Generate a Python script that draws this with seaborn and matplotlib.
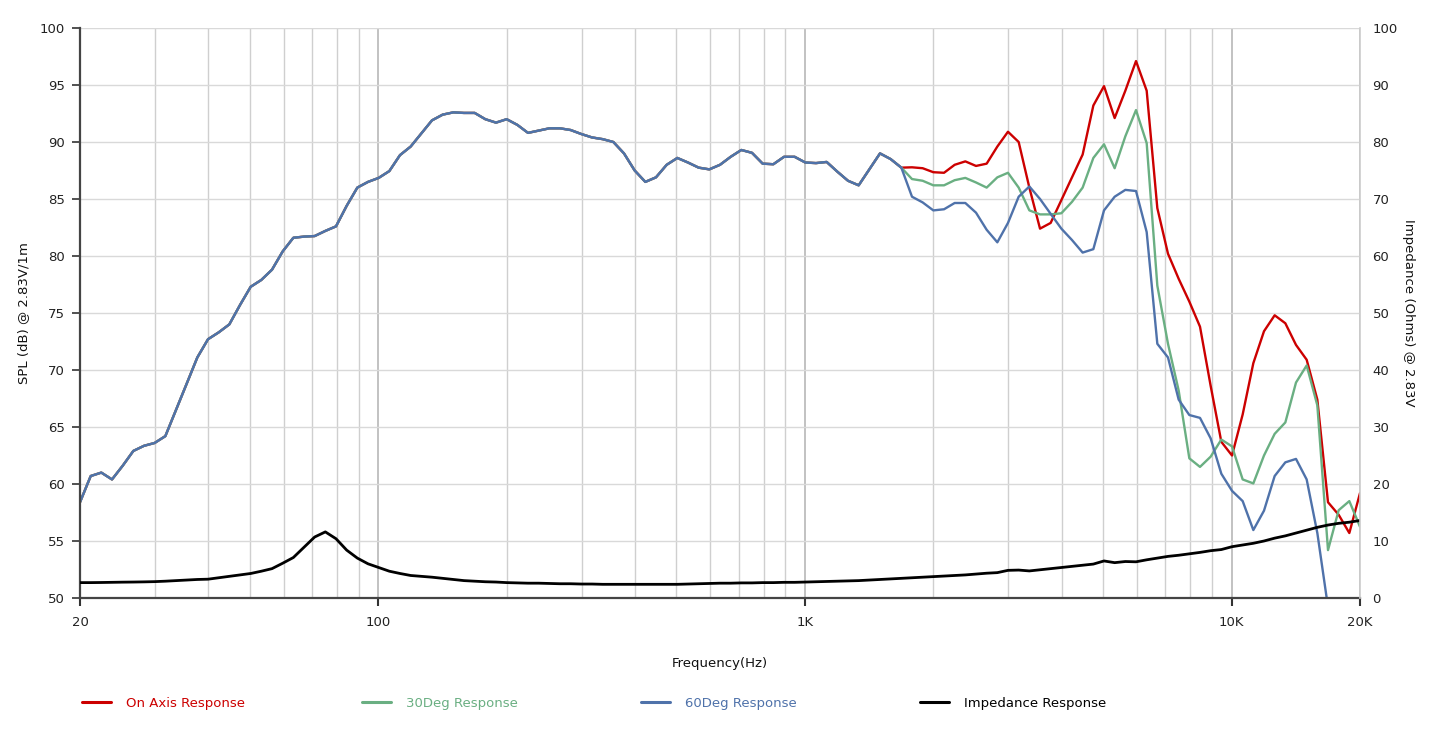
import numpy as np
import matplotlib
matplotlib.use("Agg")
import matplotlib.pyplot as plt
import seaborn as sns
from matplotlib.ticker import FixedLocator, FixedFormatter, NullFormatter
from matplotlib.lines import Line2D

# ---------------- data ----------------
freq_hz = [20, 21.19, 22.44, 23.77, 25.18, 26.67, 28.25, 29.92, 31.70, 33.58,
           35.57, 37.67, 39.91, 42.27, 44.77, 47.43, 50.24, 53.21, 56.37, 59.71,
           63.25, 66.99, 70.96, 75.17, 79.62, 84.34, 89.34, 94.63, 100.24, 106.18,
           112.47, 119.13, 126.19, 133.67, 141.59, 149.98, 158.87, 168.28, 178.25, 188.81,
           200, 211.9, 224.4, 237.7, 251.8, 266.7, 282.5, 299.2, 317.0, 335.8,
           355.7, 376.7, 399.1, 422.7, 447.7, 474.3, 502.4, 532.1, 563.7, 597.1,
           632.5, 669.9, 709.6, 751.7, 796.2, 843.4, 893.4, 946.3, 1002.4, 1061.8,
           1124.7, 1191.3, 1261.9, 1336.7, 1415.9, 1499.8, 1588.7, 1682.8, 1782.5, 1888.1,
           2000, 2119, 2244, 2377, 2518, 2667, 2825, 2992, 3170, 3358,
           3557, 3767, 3991, 4227, 4477, 4743, 5024, 5321, 5637, 5971,
           6325, 6699, 7096, 7517, 7962, 8434, 8934, 9463, 10024, 10618,
           11247, 11913, 12619, 13367, 14159, 14998, 15887, 16828, 17825, 18881,
           20000]

# SPL shared by all three curves below ~1.6 kHz
spl_common = [58.4, 60.7, 61.0, 60.4, 61.6, 62.9, 63.35, 63.6, 64.2, 66.5,
              68.8, 71.1, 72.7, 73.3, 74.0, 75.7, 77.3, 77.9, 78.8, 80.4,
              81.6, 81.7, 81.75, 82.2, 82.6, 84.4, 86.0, 86.5, 86.85, 87.45,
              88.85, 89.6, 90.75, 91.9, 92.4, 92.6, 92.55, 92.55, 92.0, 91.7,
              92.0, 91.5, 90.8, 91.0, 91.2, 91.2, 91.05, 90.7, 90.4, 90.25,
              90.0, 89.0, 87.5, 86.5, 86.9, 88.0, 88.6, 88.2, 87.75, 87.6,
              88.0, 88.7, 89.3, 89.05, 88.1, 88.05, 88.7, 88.7, 88.2, 88.15,
              88.25, 87.4, 86.6, 86.2, 87.6, 89.0, 88.5, 87.75]

spl_on_axis_hf = [87.78, 87.7, 87.35, 87.3, 88.0, 88.3, 87.9, 88.1, 89.6, 90.9,
                  90.0, 86.0, 82.4, 82.9, 84.9, 86.9, 88.9, 93.2, 94.9, 92.1,
                  94.5, 97.1, 94.5, 84.2, 80.2, 78.0, 76.0, 73.8, 68.6, 63.7,
                  62.5, 66.1, 70.6, 73.4, 74.8, 74.1, 72.2, 70.9, 67.4, 58.4,
                  57.3, 55.7, 59.2]

spl_30deg_hf = [86.75, 86.6, 86.2, 86.2, 86.65, 86.85, 86.45, 86.0, 86.9, 87.3,
                86.0, 84.0, 83.65, 83.65, 83.75, 84.75, 86.0, 88.6, 89.8, 87.7,
                90.5, 92.8, 89.9, 77.4, 72.3, 68.2, 62.25, 61.5, 62.4, 63.9,
                63.3, 60.4, 60.05, 62.5, 64.4, 65.4, 68.9, 70.4, 66.9, 54.2,
                57.7, 58.5, 56.25]

spl_60deg_hf = [85.2, 84.7, 84.0, 84.1, 84.65, 84.65, 83.8, 82.3, 81.2, 82.9,
                85.2, 86.1, 85.0, 83.7, 82.4, 81.4, 80.3, 80.6, 84.0, 85.2,
                85.8, 85.7, 82.1, 72.3, 71.1, 67.4, 66.05, 65.8, 64.0, 60.9,
                59.4, 58.5, 55.96, 57.66, 60.7, 61.9, 62.2, 60.4, 55.7, 49.2,
                np.nan, np.nan, np.nan]

impedance_ohm = [2.7, 2.7, 2.72, 2.75, 2.78, 2.8, 2.83, 2.87, 2.95, 3.05,
                 3.15, 3.25, 3.3, 3.55, 3.8, 4.05, 4.3, 4.7, 5.15, 6.1,
                 7.1, 8.9, 10.7, 11.6, 10.4, 8.4, 7.0, 6.0, 5.35, 4.7,
                 4.3, 3.95, 3.8, 3.65, 3.45, 3.25, 3.05, 2.95, 2.85, 2.8,
                 2.7, 2.65, 2.6, 2.6, 2.55, 2.5, 2.5, 2.45, 2.45, 2.4,
                 2.4, 2.4, 2.4, 2.4, 2.4, 2.4, 2.4, 2.45, 2.5, 2.55,
                 2.6, 2.6, 2.65, 2.65, 2.7, 2.7, 2.75, 2.75, 2.8, 2.85,
                 2.9, 2.95, 3.0, 3.05, 3.15, 3.25, 3.35, 3.45, 3.55, 3.65,
                 3.75, 3.85, 3.95, 4.05, 4.2, 4.35, 4.45, 4.85, 4.9, 4.75,
                 4.95, 5.15, 5.35, 5.55, 5.75, 5.95, 6.5, 6.2, 6.4, 6.35,
                 6.7, 7.0, 7.3, 7.5, 7.75, 8.0, 8.3, 8.5, 9.0, 9.3,
                 9.6, 10.0, 10.5, 10.9, 11.4, 11.9, 12.4, 12.8, 13.1, 13.3,
                 13.6]

series_labels = ["On Axis Response", "30Deg Response", "60Deg Response", "Impedance Response"]
x_tick_values = [20, 100, 1000, 10000, 20000]
x_tick_labels = ["20", "100", "1K", "10K", "20K"]
x_minor_grid = [30, 40, 50, 60, 70, 80, 90,
                200, 300, 400, 500, 600, 700, 800, 900,
                2000, 3000, 4000, 5000, 6000, 7000, 8000, 9000]

spl_on = np.array(spl_common + spl_on_axis_hf, dtype=float)
spl_30 = np.array(spl_common + spl_30deg_hf, dtype=float)
spl_60 = np.array(spl_common + spl_60deg_hf, dtype=float)
freq = np.array(freq_hz, dtype=float)
imp = np.array(impedance_ohm, dtype=float)

# ---------------- style ----------------
RED = "#cc0000"
GREEN = "#6aaf82"
BLUE = "#4f72aa"
BLACK = "#000000"

sns.set_theme(style="white")
plt.rcParams["font.family"] = ["DejaVu Sans"]

fig = plt.figure(figsize=(14.4, 7.4), dpi=100)
ax = fig.add_axes([80 / 1440, 142 / 740, 1280 / 1440, 570 / 740])
ax.set_xscale("log")
ax2 = ax.twinx()

sns.lineplot(x=freq, y=spl_on, ax=ax, color=RED, lw=1.7, sort=False)
sns.lineplot(x=freq, y=spl_30, ax=ax, color=GREEN, lw=1.7, sort=False)
sns.lineplot(x=freq, y=spl_60, ax=ax, color=BLUE, lw=1.7, sort=False)
sns.lineplot(x=freq, y=imp, ax=ax2, color=BLACK, lw=2.0, sort=False)

ax.set_xlim(20, 20000)
ax.set_ylim(50, 100)
ax2.set_ylim(0, 100)

ax.xaxis.set_major_locator(FixedLocator(x_tick_values))
ax.xaxis.set_major_formatter(FixedFormatter(x_tick_labels))
ax.xaxis.set_minor_locator(FixedLocator(x_minor_grid))
ax.xaxis.set_minor_formatter(NullFormatter())
ax.set_yticks(np.arange(50, 101, 5))
ax2.set_yticks(np.arange(0, 101, 10))

ax.tick_params(axis="x", which="major", direction="out", length=6, width=1.5,
               color="#333333", labelsize=9.5, labelcolor="#222222", pad=7, bottom=True)
ax.tick_params(axis="x", which="minor", length=0)
ax.tick_params(axis="y", direction="out", length=6, width=1.2, color="#333333",
               labelsize=9.5, labelcolor="#222222", pad=5, left=True)
ax2.tick_params(axis="y", length=0, labelsize=9.5, labelcolor="#222222", pad=9)

ax.set_axisbelow(True)
ax.grid(True, which="major", axis="y", color="#d9d9d9", lw=1.0)
ax.grid(True, which="major", axis="x", color="#b8b8b8", lw=1.2)
ax.grid(True, which="minor", axis="x", color="#cfcfcf", lw=1.0)

for a in (ax, ax2):
    a.spines["top"].set_visible(False)
ax.spines["right"].set_visible(False)
ax2.spines["left"].set_visible(False)
ax2.spines["bottom"].set_visible(False)
ax.spines["left"].set_color("#444444")
ax.spines["left"].set_linewidth(1.6)
ax.spines["bottom"].set_color("#444444")
ax.spines["bottom"].set_linewidth(1.6)
ax2.spines["right"].set_color("#cccccc")
ax2.spines["right"].set_linewidth(1.2)

ax.set_xlabel("Frequency(Hz)", fontsize=9.5, color="#111111")
ax.xaxis.set_label_coords(0.5, -(657 - 598) / 570)
ax.set_ylabel("SPL (dB) @ 2.83V/1m", fontsize=9.5, color="#111111")
ax.yaxis.set_label_coords(-(80 - 30) / 1280, 0.5)
ax2.set_ylabel("Impedance (Ohms) @ 2.83V", fontsize=9.5, color="#111111",
               rotation=-90, va="center")
ax2.yaxis.set_label_coords((1408 - 80) / 1280, 0.5)

# legend: four evenly spaced entries along the bottom
legend_x = [82, 362, 641, 920]
for lbl, col, lx in zip(series_labels, [RED, GREEN, BLUE, BLACK], legend_x):
    fig.legend(handles=[Line2D([], [], color=col, lw=2.2)], labels=[lbl],
               loc="center left", bbox_to_anchor=(lx / 1440, 1 - 703 / 740),
               frameon=False, handlelength=2.2, handletextpad=1.1,
               borderpad=0, borderaxespad=0, fontsize=9.5, labelcolor=col)

fig.savefig("out.png", dpi=100)
